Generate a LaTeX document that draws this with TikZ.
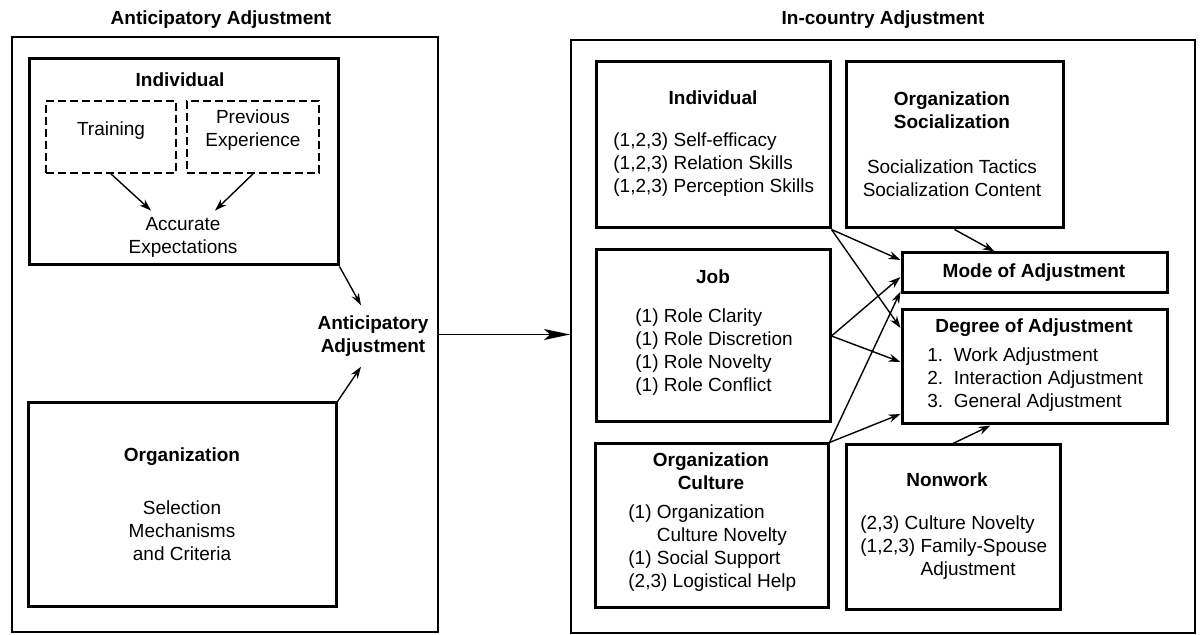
\documentclass[tikz,border=0pt]{standalone}
\usepackage{fontspec}
\setmainfont{Liberation Sans}
\usetikzlibrary{arrows.meta,fit}

\begin{document}
\begin{tikzpicture}[x=0.5pt,y=-0.5pt,
    font=\fontsize{9.5}{11.5}\selectfont,
    frame/.style={draw,line width=1pt,inner sep=0pt},
    box/.style={draw,line width=1.5pt,inner sep=0pt},
    dbox/.style={draw,line width=0.9pt,dash pattern=on 4pt off 2pt,inner sep=0pt,align=center},
    head/.style={font=\fontsize{9.5}{11.5}\selectfont\bfseries,align=center,inner sep=1pt},
    body/.style={align=center,inner sep=1pt},
    list/.style={align=left,anchor=west,inner sep=0pt},
    conn/.style={-{Stealth[length=6pt,width=4pt]},line width=0.7pt},
    bigarrow/.style={-{Stealth[length=13pt,width=5.5pt,inset=3pt]},line width=0.7pt}]
  \useasboundingbox (0,0) rectangle (1200,635);

  \node[head] (antTitle) at (221,20) {Anticipatory Adjustment};
  \node[frame,fit={(12,37) (438,632)}] (lft) {};
  \node[box,fit={(29,59) (338,265)}] (indL) {};
  \node[head] (indLhead) at (180,80) {Individual};
  \node[dbox,fit={(46,101) (176,173)}] (train) {Training};
  \node[dbox,fit={(187,101) (319,173)}] (prev) {Previous\\Experience};
  \node[body] (acc) at (183,237) {Accurate\\Expectations};
  \draw[conn] (train.south) -- ([xshift=-16pt,yshift=2pt]acc.north);
  \draw[conn] (prev.south) -- ([xshift=16pt,yshift=2pt]acc.north);
  \node[box,fit={(28,403) (336,607)}] (org) {};
  \node[head] (orgHead) at (182,457) {Organization};
  \node[body] (orgBody) at (182,531) {Selection\\Mechanisms\\and Criteria};
  \node[head] (ant) at (373,336) {Anticipatory\\Adjustment};
  \draw[conn] (indL.south east) -- ([xshift=-6pt,yshift=4pt]ant.north);
  \draw[conn] (org.north east) -- ([xshift=-6pt,yshift=-4pt]ant.south);

  \node[head] (inTitle) at (883,20) {In-country Adjustment};
  \node[frame,fit={(571,40) (1195,633)}] (rgt) {};
  \draw[bigarrow] (lft.east) -- (lft.east -| rgt.west);

  \node[box,fit={(596,62) (830,228)}] (indR) {};
  \node[head] (indRhead) at (713,98) {Individual};
  \node[list] (indRlist) at (613,165) {(1,2,3) Self-efficacy\\(1,2,3) Relation Skills\\(1,2,3) Perception Skills};

  \node[box,fit={(846,62) (1063,228)}] (soc) {};
  \node[head] (socHead) at (952,110) {Organization\\Socialization};
  \node[body] (socBody) at (952,178) {Socialization Tactics\\Socialization Content};

  \node[box,fit={(596,250) (830,422)}] (job) {};
  \node[head] (jobHead) at (713,277) {Job};
  \node[list] (jobList) at (635,352) {(1) Role Clarity\\(1) Role Discretion\\(1) Role Novelty\\(1) Role Conflict};

  \node[box,fit={(595,444) (828,608)}] (cult) {};
  \node[head] (cultHead) at (711,471) {Organization\\Culture};
  \node[list] (cultList) at (628,548) {(1) Organization\\\hphantom{(1)}\ Culture Novelty\\(1) Social Support\\(2,3) Logistical Help};

  \node[box,fit={(846,445) (1060,610)}] (nonw) {};
  \node[head] (nonwHead) at (947,480) {Nonwork};
  \node[list] (nonwList) at (860,548) {(2,3) Culture Novelty\\(1,2,3) Family-Spouse\\\hphantom{(1,2,3)}\ Adjustment};

  \node[box,fit={(902,253) (1167,293)}] (mode) {};
  \node[head] (modeHead) at (1034,273) {Mode of Adjustment};
  \node[box,fit={(902,310) (1167,424)}] (deg) {};
  \node[head] (degHead) at (1034,328) {Degree of Adjustment};
  \node[list] (degList) at (927,380) {1.\ \ Work Adjustment\\2.\ \ Interaction Adjustment\\3.\ \ General Adjustment};

  \draw[conn] (indR.south east) -- ([yshift=6.5pt]mode.west);
  \draw[conn] (indR.south east) -- ([yshift=19.5pt]deg.west);
  \draw[conn] (job.east) -- ([yshift=-2pt]mode.west);
  \draw[conn] (job.east) -- ([yshift=2.5pt]deg.west);
  \draw[conn] (cult.north east) -- ([yshift=1.5pt]mode.south west);
  \draw[conn] (cult.north east) -- ([yshift=-23.5pt]deg.west);
  \draw[conn] (soc.south) -- ([xshift=-20pt]mode.north);
  \draw[conn] (nonw.north) -- ([xshift=-22pt]deg.south);
\end{tikzpicture}
\end{document}
